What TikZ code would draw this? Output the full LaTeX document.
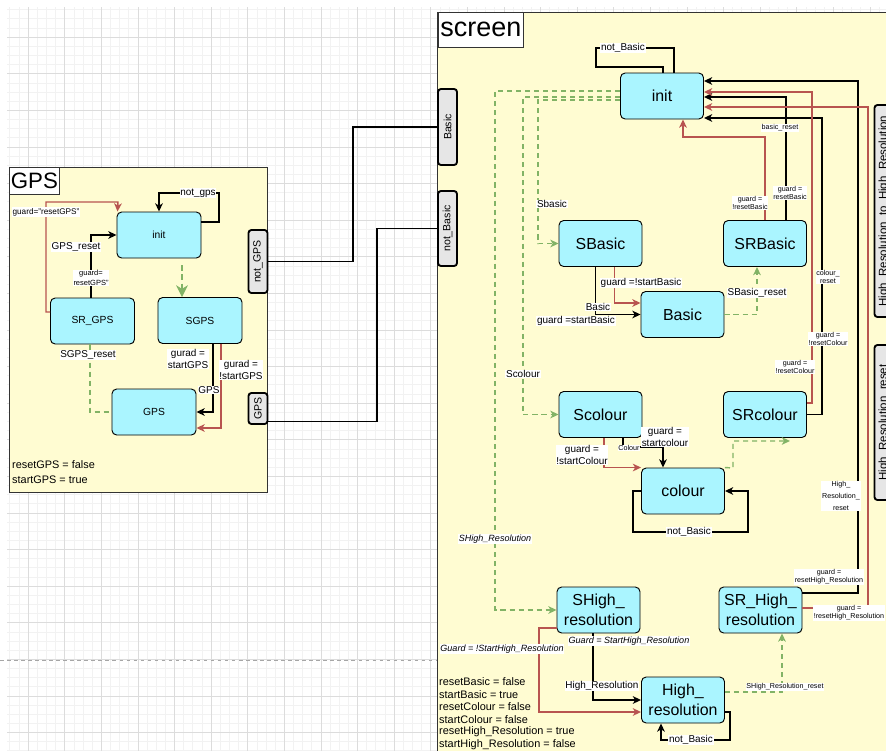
\documentclass[tikz,border=0pt]{standalone}
\usepackage{fontspec}
\setmainfont{Liberation Sans}
\usetikzlibrary{arrows.meta,calc}
\definecolor{stnode}{RGB}{170,245,255}
\definecolor{boxfill}{RGB}{255,252,210}
\definecolor{tred}{RGB}{184,84,80}
\definecolor{tgreen}{RGB}{130,179,102}
\definecolor{portfill}{RGB}{230,230,230}
\definecolor{gridmaj}{RGB}{220,220,220}
\definecolor{gridmin}{RGB}{242,242,242}
\tikzset{
  stbox/.style={draw=black,line width=0.8pt,fill=stnode,rounded corners=4pt,minimum width=2.49cm,minimum height=1.38cm,align=center,inner sep=1pt,font=\fontsize{13.6}{17}\selectfont},
  gstbox/.style={stbox,minimum width=2.52cm,font=\fontsize{8.8}{10}\selectfont},
  portbox/.style={draw=black,line width=1.6pt,fill=portfill,rounded corners=2.5pt,rotate=90,minimum height=0.57cm,inner sep=1pt,font=\fontsize{9}{10}\selectfont},
  container/.style={draw=black!80,line width=0.8pt,fill=boxfill},
  boxtitle/.style={draw=black!80,line width=0.6pt,fill=white,anchor=north west,inner sep=1pt},
  wire/.style={draw=black,line width=1.2pt,->},
  redw/.style={draw=tred,line width=1.2pt,->},
  grnw/.style={draw=tgreen,line width=1.2pt,dash pattern=on 4.3pt off 3.4pt,->},
  lbl/.style={fill=white,inner sep=0.6pt,align=center,font=\fontsize{8.5}{9.8}\selectfont},
  slbl/.style={lbl,font=\fontsize{6.1}{7}\selectfont},
  ilbl/.style={lbl,font=\fontsize{7.7}{9}\selectfont\itshape},
  notetext/.style={anchor=west,inner sep=0pt,font=\fontsize{9.3}{10.6}\selectfont},
  >={Stealth[length=7pt,width=6.5pt,inset=2pt]}
}
\begin{document}
\begin{tikzpicture}[x=0.03cm,y=-0.03cm]
\useasboundingbox (0,0) rectangle (886,751);
\clip (0,0) rectangle (886,751);
\fill[white] (0,0) rectangle (886,751);
\foreach \i in {0,...,95} \draw[gridmin,line width=0.4pt] ({9.7+9.15*\i},7) -- ({9.7+9.15*\i},751);
\foreach \i in {0,...,81} \draw[gridmin,line width=0.4pt] (7,{9.55+9.15*\i}) -- (886,{9.55+9.15*\i});
\foreach \i in {0,...,23} \draw[gridmaj,line width=0.5pt] ({28+36.6*\i},7) -- ({28+36.6*\i},751);
\foreach \i in {0,...,19} \draw[gridmaj,line width=0.5pt] (7,{37+36.6*\i}) -- (886,{37+36.6*\i});
\draw[gray!70,dashed,line width=0.6pt] (0,660) -- (437,660);

\draw[container] (9,167) rectangle (267,492);
\node[boxtitle,minimum width=1.5cm,minimum height=0.81cm,font=\fontsize{19}{20}\selectfont] (gpstitle) at (9,167) {GPS};
\draw[container] (437,12) rectangle (900,770);
\node[boxtitle,minimum width=2.55cm,minimum height=1.05cm,font=\fontsize{23}{24}\selectfont] (scrtitle) at (438,12) {screen};

\node[gstbox] (ginit) at (159,235) {init};
\node[gstbox] (gsr) at (92.5,321) {SR\_GPS};
\node[gstbox] (gs) at (200,320.5) {SGPS};
\node[gstbox] (ggps) at (154,412) {GPS};

\node[portbox,minimum width=1.89cm] (pngps) at (258,261.5) {not\_GPS};
\node[portbox,minimum width=0.93cm] (pgps) at (258,408.5) {GPS};
\node[portbox,minimum width=2.28cm] (pbasic) at (447.5,127) {Basic};
\node[portbox,minimum width=2.25cm] (pnbasic) at (447.5,228.5) {not\_Basic};
\node[portbox,minimum width=6.36cm,font=\fontsize{9.8}{11}\selectfont] (phr) at (884,211) {High\_Resolution\_to\_High\_Resolution};
\node[portbox,minimum width=4.65cm,font=\fontsize{9.8}{11}\selectfont] (phrr) at (884,422.5) {High\_Resolution\_reset};

\node[stbox] (sinit) at (662,96) {init};
\node[stbox] (sb) at (600.5,243.5) {SBasic};
\node[stbox] (srb) at (765,243.5) {SRBasic};
\node[stbox] (basic) at (682.5,314.5) {Basic};
\node[stbox] (scol) at (600.5,414.5) {Scolour};
\node[stbox] (srcol) at (765,414.5) {SRcolour};
\node[stbox] (colour) at (683,491) {colour};
\node[stbox] (shigh) at (598.5,610) {SHigh\_\\resolution};
\node[stbox] (srhigh) at (760.5,610) {SR\_High\_\\resolution};
\node[stbox] (high) at (683,700) {High\_\\resolution};

\draw[line width=1.2pt] (pngps.south) -- (353,261.5) |- (pbasic.north);
\draw[line width=1.2pt] ($(pgps.south)+(0,13)$) -- (377,421.5) |- (pnbasic.north);

\draw[wire] ($(ginit.east)+(0,-13)$) -- (219,222) |- (159,193) -- (ginit.north);
\node[lbl] (lngps) at (198,193) {not\_gps};
\draw[redw] ($(gsr.west)+(0,-9)$) -- (46,312) |- (118,202) -- ($(ginit.north west)+(1,0)$);
\node[lbl,font=\fontsize{7}{8}\selectfont] (lrgps) at (46,212) {guard="resetGPS"};
\draw[wire] ($(gsr.north)+(-1.5,0)$) |- (ginit.west);
\node[lbl] (lgreset) at (76,247) {GPS\_reset};
\node[lbl,font=\fontsize{6.4}{8}\selectfont] (lgguard) at (91,278) {guard=\\resetGPS"};
\draw[grnw,-{Stealth[length=10pt,width=10pt,inset=3pt]}] ($(ginit.south)+(23,7)$) -- ($(gs.north)+(-18,0)$);
\draw[grnw,-] ($(gsr.south)+(-2.5,0)$) |- (ggps.west);
\node[lbl] (lsgreset) at (88,355) {SGPS\_reset};
\draw[wire] ($(gs.south)+(13,0)$) |- (ggps.east);
\node[lbl] (lgstart) at (188,359) {gurad =\\startGPS};
\node[lbl] (lgps) at (209,390) {GPS};
\draw[redw] ($(gs.south)+(21,0)$) |- ($(ggps.east)+(0,16)$);
\node[lbl] (lgnstart) at (241,370) {gurad =\\!startGPS};
\node[notetext] (nrgps) at (12,465) {resetGPS = false};
\node[notetext] (nsgps) at (12,480) {startGPS = true};

\draw[wire,-] ($(sinit.north)+(12,0)$) -- (674,48) -- (596,48) -- (596,67) -- (663,67) -- ($(sinit.north)+(1,0)$);
\node[lbl] (lnb0) at (623,48) {not\_Basic};
\draw[grnw] ($(sinit.west)+(0,4)$) -- (538,100) |- (sb.west);
\draw[grnw] ($(sinit.west)+(0,1)$) -- (523,97) |- (scol.west);
\draw[grnw] ($(sinit.west)+(0,-5)$) -- (495,91) |- (shigh.west);
\node[lbl] (lsb) at (552,204) {Sbasic};
\node[lbl] (lsc) at (523,374) {Scolour};
\node[ilbl] (lsh) at (495,539) {SHigh\_Resolution};

\draw[wire] ($(sb.south)+(-5,0)$) |- (basic.west);
\node[lbl] (lbasic) at (598,307) {Basic};
\node[lbl] (lbstart) at (576,321) {guard =startBasic};
\draw[redw] ($(sb.south)+(14,0)$) |- ($(basic.west)+(0,-11.5)$);
\node[lbl] (lbnstart) at (641,283) {guard =!startBasic};
\draw[grnw] (basic.east) -| ($(srb.south)+(-8,0)$);
\node[lbl] (lbreset) at (757,293) {SBasic\_reset};

\draw[wire] ($(srb.north)+(21,0)$) |- ($(sinit.east)+(0,1)$);
\draw[redw] (srb.north) -- (765,137) -| ($(sinit.south)+(21,0)$);
\node[slbl] (lrbg) at (750,203) {guard =\\!resetBasic};
\node[slbl] (lrbr) at (780,128) {basic\_reset};
\node[slbl] (lrbg2) at (790,193) {guard =\\resetBasic};

\draw[wire] (srcol.east) -- (822,414.5) |- ($(sinit.east)+(0,22)$);
\draw[redw] ($(srcol.east)+(0,-11.5)$) -- (812,403) |- ($(sinit.east)+(0,-4)$);
\node[slbl] (lcr) at (828,277) {colour\_\\reset};
\node[slbl] (lcg1) at (828,339) {guard =\\!resetColour};
\node[slbl] (lcg2) at (795,367) {guard =\\!resetColour};

\draw[wire] ($(srhigh.east)+(0,-17)$) -- (858,593) |- ($(sinit.east)+(0,-15)$);
\draw[redw] ($(srhigh.east)+(0,-2)$) -- (868,608) |- ($(sinit.east)+(0,11)$);
\node[slbl,font=\fontsize{6.1}{10.2}\selectfont] (lhr) at (841,496) {High\_\\Resolution\_\\reset};
\node[slbl] (lhg1) at (829,577) {guard =\\resetHigh\_Resolution};
\node[slbl] (lhg2) at (849,613) {guard =\\!resetHigh\_Resolution};

\draw[redw] ($(scol.south)+(3.5,0)$) |- (colour.north west);
\node[lbl] (lcnstart) at (582,455) {guard =\\!startColour};
\draw[wire] ($(scol.south)+(22.5,0)$) -- (623,447) -| ($(colour.north)+(-20,0)$);
\node[slbl] (lcol) at (629,448) {Colour};
\node[lbl] (lcstart) at (665,437) {guard =\\startcolour};
\draw[grnw] (colour.north east) -- (733,468) -- (733,441) -- ($(srcol.south)+(25,3)$);
\draw[wire] (colour.west) -- (633,491) -- (633,532) -- (748,532) |- (colour.east);
\node[lbl] (lcnb) at (689,532) {not\_Basic};

\draw[wire] ($(shigh.south)+(-5.5,0)$) |- (high.west);
\node[ilbl] (lhstart) at (629,641) {Guard = StartHigh\_Resolution};
\node[lbl] (lhres) at (602,686) {High\_Resolution};
\draw[redw] ($(shigh.west)+(0,18)$) -- (539,628) |- ($(high.west)+(0,12)$);
\node[ilbl] (lhnstart) at (502,649) {Guard = !StartHigh\_Resolution};
\draw[grnw] ($(high.east)+(0,-8)$) -| ($(srhigh.south)+(21.5,0)$);
\node[slbl] (lhreset) at (785,687) {SHigh\_Resolution\_reset};
\draw[wire] ($(high.east)+(0,12)$) -- (730,712) -- (730,740) -| ($(high.south)+(-22,0)$);
\node[lbl] (lhnb) at (691,740) {not\_Basic};

\node[notetext] (n1) at (439,682) {resetBasic = false};
\node[notetext] (n2) at (439,694.5) {startBasic = true};
\node[notetext] (n3) at (439,707) {resetColour = false};
\node[notetext] (n4) at (439,719.5) {startColour = false};
\node[notetext] (n5) at (439,732) {resetHigh\_Resolution = true};
\node[notetext] (n6) at (439,744.5) {startHigh\_Resolution = false};
\end{tikzpicture}
\end{document}
